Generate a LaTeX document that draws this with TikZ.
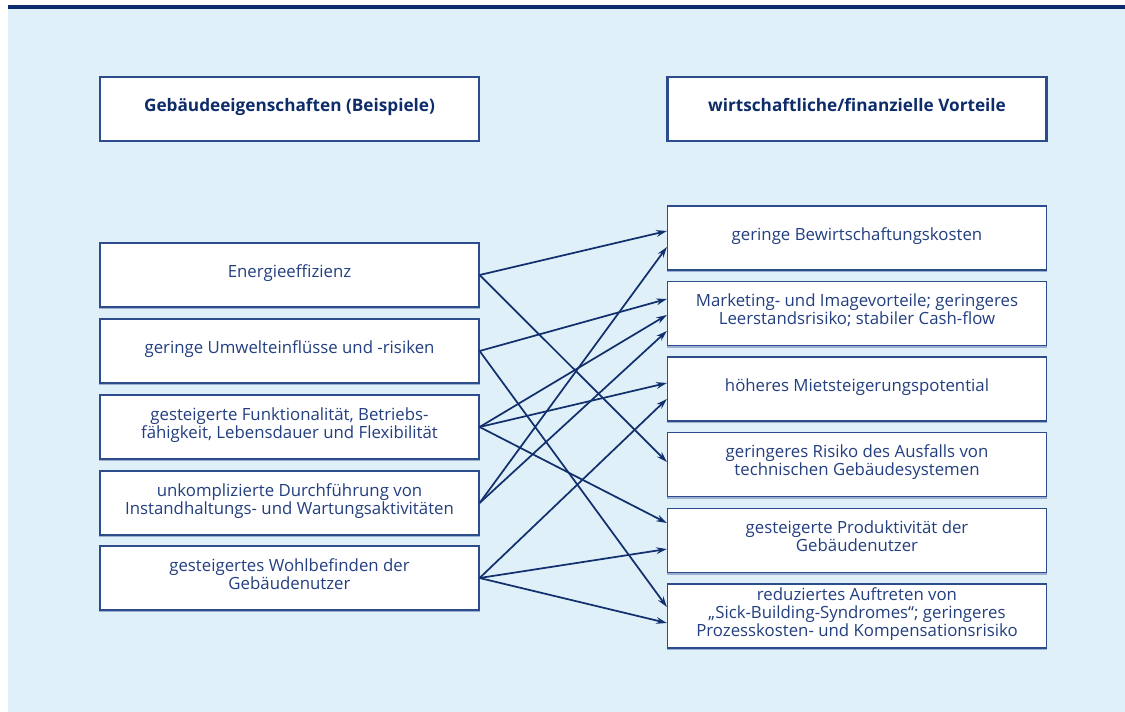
\documentclass[tikz,border=0pt]{standalone}
\usepackage{fontspec}
\setmainfont{Open Sans}
\usetikzlibrary{arrows.meta}
\definecolor{bgblue}{HTML}{E0F0F9}
\definecolor{barblue}{HTML}{0B2B6E}
\definecolor{boxline}{HTML}{2C4C8C}
\definecolor{shadowblue}{HTML}{9BB0D0}
\definecolor{txtblue}{HTML}{233F80}
\definecolor{headblue}{HTML}{0E2C6A}
\definecolor{arrowblue}{HTML}{12306E}
\tikzset{
  itembox/.style={draw=boxline, line width=0.9pt, fill=white, minimum width=284.25pt, minimum height=48pt,
    align=center, inner sep=0pt, text=txtblue, font=\fontsize{12.6}{13.4}\selectfont, text depth=6pt,
    preaction={draw=shadowblue, line width=1.2pt, transform canvas={yshift=-1pt}}},
  headbox/.style={draw=boxline, line width=1.6pt, fill=white, minimum width=284.25pt, minimum height=48pt,
    align=center, inner sep=0pt, text=headblue, font=\fontsize{12.9}{13.4}\selectfont\bfseries, text depth=6pt},
  link/.style={draw=arrowblue, line width=1.3pt, -{Stealth[length=8pt,width=5pt]}}
}
\begin{document}
\begin{tikzpicture}[x=0.75pt,y=-0.75pt]
\useasboundingbox (0,0) rectangle (1125,712);
\fill[bgblue] (8,8) rectangle (1125,712);
\fill[barblue] (8,5.5) rectangle (1125,9);

\node[headbox] (hl) at (289.5,109) {Gebäudeeigenschaften (Beispiele)};
\node[headbox] (hr) at (857,109) {wirtschaftliche/finanzielle Vorteile};

\node[itembox] (l1) at (289.5,275) {Energieeffizienz};
\node[itembox] (l2) at (289.5,351) {geringe Umwelteinflüsse und -risiken};
\node[itembox] (l3) at (289.5,427) {gesteigerte Funktionalität, Betriebs-\\fähigkeit, Lebensdauer und Flexibilität};
\node[itembox] (l4) at (289.5,503) {unkomplizierte Durchführung von\\Instandhaltungs- und Wartungsaktivitäten};
\node[itembox] (l5) at (289.5,578) {gesteigertes Wohlbefinden der\\Gebäudenutzer};

\node[itembox] (r1) at (857,238) {geringe Bewirtschaftungskosten};
\node[itembox] (r2) at (857,313.5) {Marketing- und Imagevorteile; geringeres\\Leerstandsrisiko; stabiler Cash-flow};
\node[itembox] (r3) at (857,389) {höheres Mietsteigerungspotential};
\node[itembox] (r4) at (857,464.5) {geringeres Risiko des Ausfalls von\\technischen Gebäudesystemen};
\node[itembox] (r5) at (857,540.5) {gesteigerte Produktivität der\\Gebäudenutzer};
\node[itembox] (r6) at (857,616) {reduziertes Auftreten von\\„Sick-Building-Syndromes“; geringeres\\Prozesskosten- und Kompensationsrisiko};

\draw[link] (l1.east) -- ([yshift=5.25pt]r1.west);
\draw[link] (l1.east) -- ([yshift=1.9pt]r4.west);
\draw[link] (l2.east) -- ([yshift=10.9pt]r2.west);
\draw[link] (l2.east) -- ([yshift=6.75pt]r6.west);
\draw[link] (l3.east) -- ([yshift=-1.1pt]r2.west);
\draw[link] (l3.east) -- ([yshift=4.5pt]r3.west);
\draw[link] (l3.east) -- ([yshift=13.1pt]r5.west);
\draw[link] (l4.east) -- ([yshift=-6.75pt]r1.west);
\draw[link] (l4.east) -- ([yshift=-13.1pt]r2.west);
\draw[link] (l5.east) -- ([yshift=-7.5pt]r3.west);
\draw[link] (l5.east) -- ([yshift=-6.4pt]r5.west);
\draw[link] (l5.east) -- ([yshift=-5.25pt]r6.west);
\end{tikzpicture}
\end{document}
